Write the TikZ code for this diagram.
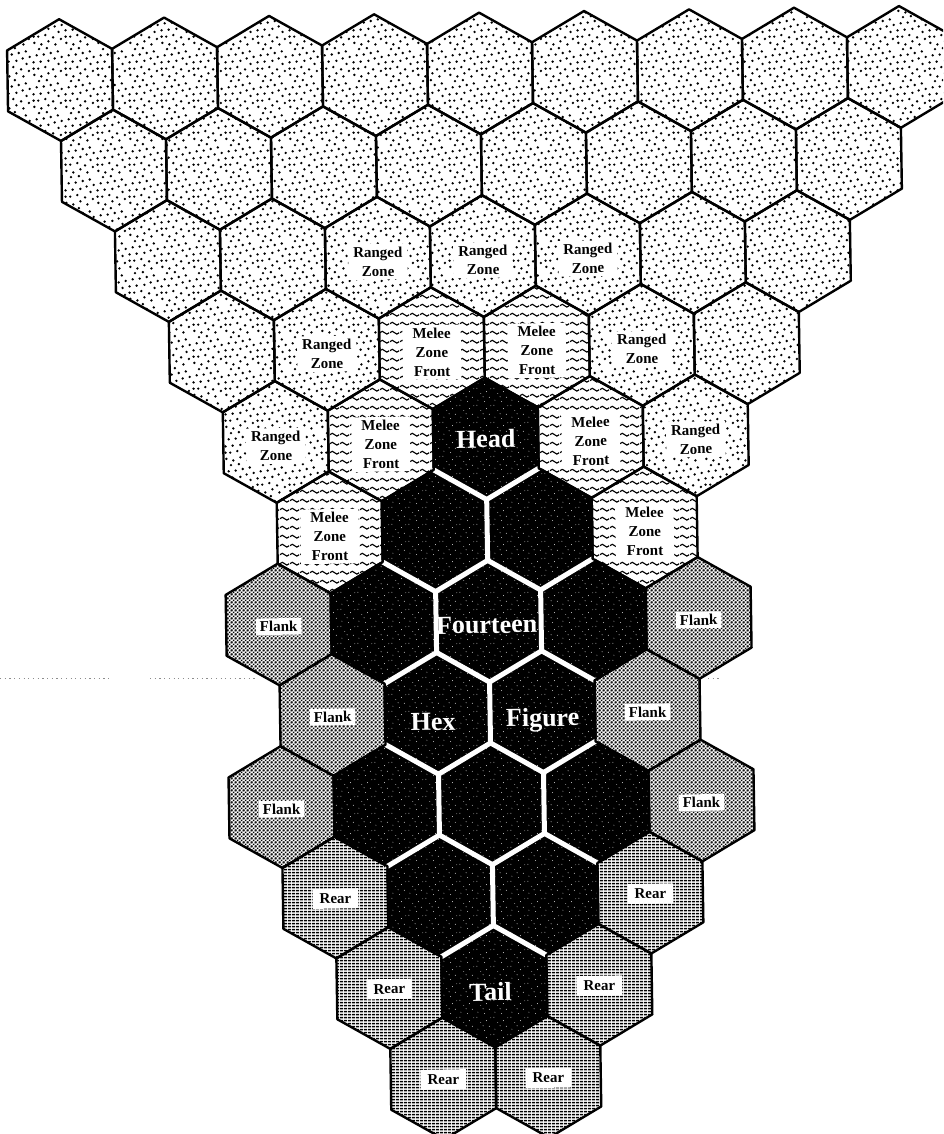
\documentclass[tikz,border=0pt]{standalone}
\usepackage{fontspec}
\setmainfont{Liberation Serif}
\usetikzlibrary{patterns}

% random-looking stipple
\pgfdeclarepatternformonly{stipple}{\pgfpointorigin}{\pgfpoint{32pt}{32pt}}{\pgfpoint{32pt}{32pt}}{%
  \foreach \a/\b in {2.4/3.2,9.6/1.6,16.8/4.8,24/1.6,29.6/7.2,6.4/9.6,13.6/11.2,21.6/8.8,27.2/14.4,1.6/16,
                     8.8/16.8,16.8/17.6,23.2/20,30.4/21.6,4.8/23.2,12/24,19.2/25.6,26.4/27.2,7.2/29.6,15.2/30.6,1.6/9.6}{%
    \pgfpathcircle{\pgfpoint{\a pt}{\b pt}}{1.35pt}}%
  \pgfusepath{fill}}
% fine halftone
\pgfdeclarepatternformonly{halftone}{\pgfpointorigin}{\pgfpoint{4pt}{4pt}}{\pgfpoint{4pt}{4pt}}{%
  \foreach \a/\b in {0/0,4/0,0/4,4/4,2/2}{\pgfpathcircle{\pgfpoint{\a pt}{\b pt}}{1.2pt}}%
  \pgfusepath{fill}}
% horizontal rules
\pgfdeclarepatternformonly{hrules}{\pgfpointorigin}{\pgfpoint{4pt}{3.4pt}}{\pgfpoint{4pt}{3.4pt}}{%
  \pgfpathrectangle{\pgfpoint{0pt}{0.8pt}}{\pgfpoint{4pt}{1.8pt}}\pgfusepath{fill}}
% wavy lines
\pgfdeclarepatternformonly{wavy}{\pgfpointorigin}{\pgfpoint{10pt}{9.3pt}}{\pgfpoint{10pt}{9.3pt}}{%
  \pgfsetlinewidth{1.2pt}%
  \pgfpathmoveto{\pgfpoint{0pt}{4.6pt}}%
  \pgfpathcurveto{\pgfpoint{1.7pt}{6.6pt}}{\pgfpoint{3.3pt}{6.6pt}}{\pgfpoint{5pt}{4.6pt}}%
  \pgfpathcurveto{\pgfpoint{6.7pt}{2.6pt}}{\pgfpoint{8.3pt}{2.6pt}}{\pgfpoint{10pt}{4.6pt}}%
  \pgfusepath{stroke}}
% sparse specks
\pgfdeclarepatternformonly{specks}{\pgfpointorigin}{\pgfpoint{17pt}{17pt}}{\pgfpoint{17pt}{17pt}}{%
  \foreach \a/\b in {2/3,9/1.5,14/6,5/10,11/12,15.5/15,1/15.5,7.5/6.5}{\pgfpathcircle{\pgfpoint{\a pt}{\b pt}}{0.5pt}}%
  \pgfusepath{fill}}

\newcommand\hexcell[3]{%
  \pgfmathsetmacro\hcx{480+105*(#3)}%
  \pgfmathsetmacro\hcy{73.5+91.3*(#2)}%
  \path[#1] (\hcx,\hcy-60.87) -- (\hcx+52.5,\hcy-30.435) -- (\hcx+52.5,\hcy+30.435)
    -- (\hcx,\hcy+60.87) -- (\hcx-52.5,\hcy+30.435) -- (\hcx-52.5,\hcy-30.435) -- cycle;}
% shared edges of the figure: east, south-east, south-west of cell (row, col)
\newcommand\edgeE[2]{%
  \pgfmathsetmacro\hcx{480+105*(#2)}\pgfmathsetmacro\hcy{73.5+91.3*(#1)}%
  \draw[gapline] (\hcx+52.5,\hcy-30.435) -- (\hcx+52.5,\hcy+30.435);}
\newcommand\edgeSE[2]{%
  \pgfmathsetmacro\hcx{480+105*(#2)}\pgfmathsetmacro\hcy{73.5+91.3*(#1)}%
  \draw[gapline] (\hcx+52.5,\hcy+30.435) -- (\hcx,\hcy+60.87);}
\newcommand\edgeSW[2]{%
  \pgfmathsetmacro\hcx{480+105*(#2)}\pgfmathsetmacro\hcy{73.5+91.3*(#1)}%
  \draw[gapline] (\hcx,\hcy+60.87) -- (\hcx-52.5,\hcy+30.435);}

\tikzset{
  outline/.style={draw=black, line width=2.4pt, line join=round},
  gapline/.style={draw=white, line width=5pt, line cap=round},
  small/.style={font=\bfseries\fontsize{15}{19}\selectfont, align=center, fill=white, transform shape},
  ranged/.style={small, inner xsep=5pt, inner ysep=3pt},
  melee/.style={small, inner xsep=10pt, inner ysep=3pt},
  flank/.style={small, inner xsep=4pt, inner ysep=3pt},
  rear/.style={small, inner xsep=7pt, inner ysep=5pt},
  big/.style={font=\bfseries\fontsize{26}{30}\selectfont, text=white, inner sep=0pt, transform shape},
}

\begin{document}
\begin{tikzpicture}[x=1pt,y=-1pt]
\useasboundingbox (0,0) rectangle (943,1134);
\fill[white] (0,0) rectangle (943,1134);
\begin{scope}
\clip (0,0) rectangle (943,1134);
\begin{scope}[rotate around={0.9:(480,73.5)}]
  % stippled zone
  \foreach \r/\c in {0/-4,0/-3,0/-2,0/-1,0/0,0/1,0/2,0/3,0/4,
                     1/-3.5,1/-2.5,1/-1.5,1/-0.5,1/0.5,1/1.5,1/2.5,1/3.5,
                     2/-3,2/-2,2/-1,2/0,2/1,2/2,2/3,
                     3/-2.5,3/-1.5,3/1.5,3/2.5,
                     4/-2,4/2}{\hexcell{pattern=stipple}{\r}{\c}}
  % melee front
  \foreach \r/\c in {3/-0.5,3/0.5,4/-1,4/1,5/-1.5,5/1.5}{\hexcell{pattern=wavy}{\r}{\c}}
  % flank
  \foreach \r/\c in {6/-2,6/2,7/-1.5,7/1.5,8/-2,8/2}{\hexcell{pattern=halftone}{\r}{\c}}
  % rear
  \foreach \r/\c in {9/-1.5,9/1.5,10/-1,10/1,11/-0.5,11/0.5}{\hexcell{pattern=hrules}{\r}{\c}}
  % the fourteen-hex figure
  \foreach \r/\c in {4/0,5/-0.5,5/0.5,6/-1,6/0,6/1,7/-0.5,7/0.5,8/-1,8/0,8/1,9/-0.5,9/0.5,10/0}{%
    \hexcell{fill=black, outline}{\r}{\c}
    \hexcell{pattern=specks, pattern color=white!85!black}{\r}{\c}}
  % white gaps between the figure's hexes
  \foreach \r/\c in {5/-0.5,6/-1,6/0,7/-0.5,8/-1,8/0,9/-0.5}{\edgeE{\r}{\c}}
  \foreach \r/\c in {4/0,5/-0.5,5/0.5,6/-1,6/0,7/-0.5,7/0.5,8/-1,8/0,9/-0.5}{\edgeSE{\r}{\c}}
  \foreach \r/\c in {4/0,5/-0.5,5/0.5,6/0,6/1,7/-0.5,7/0.5,8/0,8/1,9/0.5}{\edgeSW{\r}{\c}}
  % outlines of all other hexes
  \foreach \r/\c in {0/-4,0/-3,0/-2,0/-1,0/0,0/1,0/2,0/3,0/4,
                     1/-3.5,1/-2.5,1/-1.5,1/-0.5,1/0.5,1/1.5,1/2.5,1/3.5,
                     2/-3,2/-2,2/-1,2/0,2/1,2/2,2/3,
                     3/-2.5,3/-1.5,3/-0.5,3/0.5,3/1.5,3/2.5,
                     4/-2,4/-1,4/1,4/2,5/-1.5,5/1.5,
                     6/-2,6/2,7/-1.5,7/1.5,8/-2,8/2,
                     9/-1.5,9/1.5,10/-1,10/1,11/-0.5,11/0.5}{\hexcell{outline}{\r}{\c}}

  % labels
  \node[ranged] (rz1) at (375,260.1) {Ranged\\Zone};
  \node[ranged] (rz2) at (480,260.1) {Ranged\\Zone};
  \node[ranged] (rz3) at (585,260.1) {Ranged\\Zone};
  \node[ranged] (rz4) at (322.5,351.4) {Ranged\\Zone};
  \node[ranged] (rz5) at (637.5,351.4) {Ranged\\Zone};
  \node[ranged] (rz6) at (270,442.7) {Ranged\\Zone};
  \node[ranged] (rz7) at (690,442.7) {Ranged\\Zone};

  \node[melee] (mz1) at (427.5,351.4) {Melee\\Zone\\Front};
  \node[melee] (mz2) at (532.5,351.4) {Melee\\Zone\\Front};
  \node[melee] (mz3) at (375,442.7) {Melee\\Zone\\Front};
  \node[melee] (mz4) at (585,442.7) {Melee\\Zone\\Front};
  \node[melee] (mz5) at (322.5,534) {Melee\\Zone\\Front};
  \node[melee] (mz6) at (637.5,534) {Melee\\Zone\\Front};

  \node[flank] (fl1) at (270,623.3) {Flank};
  \node[flank] (fl2) at (690,623.3) {Flank};
  \node[flank] (fl3) at (322.5,714.6) {Flank};
  \node[flank] (fl4) at (637.5,714.6) {Flank};
  \node[flank] (fl5) at (270,805.9) {Flank};
  \node[flank] (fl6) at (690,805.9) {Flank};

  \node[rear] (re1) at (322.5,896.2) {Rear};
  \node[rear] (re2) at (637.5,896.2) {Rear};
  \node[rear] (re3) at (375,987.5) {Rear};
  \node[rear] (re4) at (585,987.5) {Rear};
  \node[rear] (re5) at (427.5,1078.8) {Rear};
  \node[rear] (re6) at (532.5,1078.8) {Rear};

  \node[big] (head) at (480,438.7) {Head};
  \node[big] (fourteen) at (478,625) {Fourteen};
  \node[big] (hex) at (423,721) {Hex};
  \node[big] (figure) at (532.5,721) {Figure};
  \node[big] (tail) at (476,992) {Tail};
\end{scope}
% faint scanning trace
\draw[black!45, line width=0.8pt, dash pattern=on 1.2pt off 3.5pt] (0,678) -- (110,678) (150,678) -- (255,678) (708,678) -- (722,678);
\end{scope}
\end{tikzpicture}
\end{document}
